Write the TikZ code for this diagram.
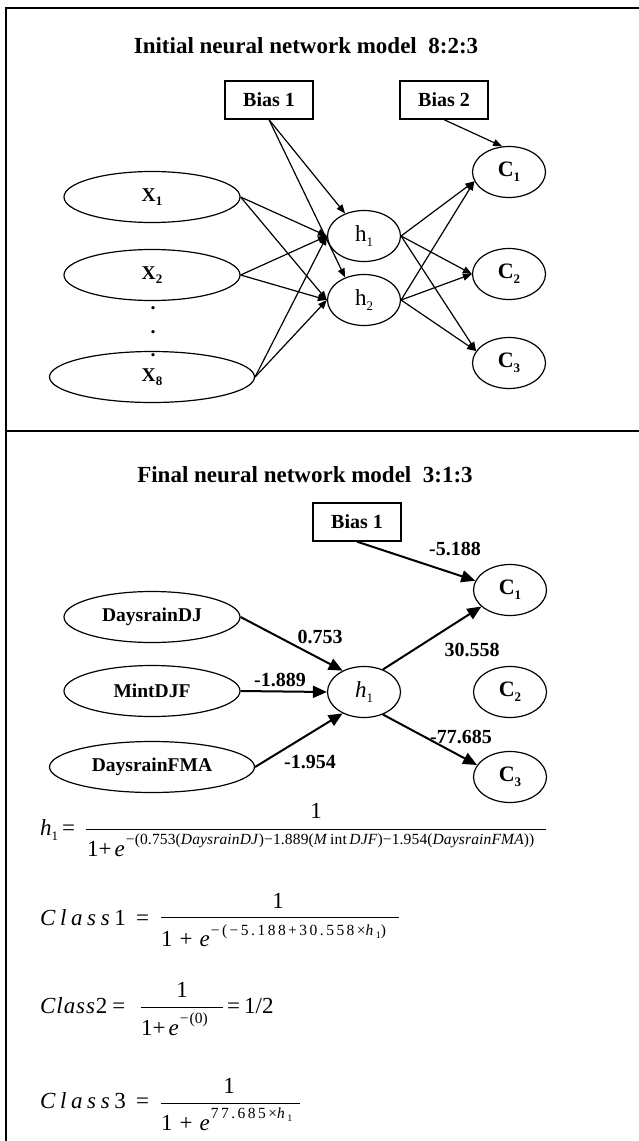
\documentclass[tikz,border=0pt]{standalone}
\usepackage{fontspec}
\setmainfont{Liberation Serif}
\usetikzlibrary{shapes.geometric,arrows.meta}

% lowered index digit
\newcommand{\lowidx}[1]{\raisebox{-0.22em}{\fontsize{13}{13}\selectfont #1}}
\newcommand{\smallidx}[1]{\raisebox{-0.2em}{\fontsize{10}{10}\selectfont #1}}
% raised exponent of e
\newcommand{\expo}[2]{\raisebox{#1}{\fontsize{15.5}{15.5}\selectfont #2}}

\begin{document}
\begin{tikzpicture}[x=1pt,y=-1pt,
  heading/.style={anchor=base,font=\fontsize{23}{23}\selectfont\bfseries},
  biasbox/.style={draw,line width=1.3pt,minimum width=88pt,minimum height=38pt,inner sep=0pt,
    font=\fontsize{20}{20}\selectfont\bfseries},
  oval/.style={ellipse,draw,line width=1.2pt,inner sep=0pt,minimum height=51pt},
  inoval/.style={oval,minimum width=176pt,font=\fontsize{19.5}{19.5}\selectfont\bfseries},
  wideoval/.style={oval,minimum width=205pt,font=\fontsize{19.5}{19.5}\selectfont\bfseries},
  unit/.style={oval,minimum width=73pt,font=\fontsize{23}{23}\selectfont},
  outunit/.style={oval,minimum width=73pt,font=\fontsize{22}{22}\selectfont\bfseries},
  wire/.style={line width=1.2pt,-{Triangle[length=9pt,width=7pt]}},
  heavywire/.style={line width=2pt,-{Triangle[length=14pt,width=12pt]}},
  weight/.style={font=\fontsize{20}{20}\selectfont\bfseries,inner sep=0pt},
  dotmark/.style={font=\fontsize{20}{20}\selectfont\bfseries,inner sep=0pt},
  eqtext/.style={anchor=base west,inner sep=0pt,font=\fontsize{23}{23}\selectfont},
  eqnum/.style={anchor=base,inner sep=0pt,font=\fontsize{23}{23}\selectfont},
  fracbar/.style={line width=1pt}
]
\useasboundingbox (0,0) rectangle (639,1141);

% outer frame and divider
\begin{scope}
  \clip (0,0) rectangle (639,1141);
  \draw[line width=2pt] (6,1160) -- (6,8) -- (660,8);
  \draw[line width=2pt] (6,431) -- (660,431);
\end{scope}

% ---------- initial model 8:2:3 ----------
\node[heading] (t1) at (306,53) {Initial neural network model~~8:2:3};

\node[biasbox] (b1) at (269,100) {Bias 1};
\node[biasbox] (b2) at (444,100) {Bias 2};

\node[inoval] (x1) at (152,197) {X\lowidx{1}};
\node[inoval] (x2) at (152,275) {X\lowidx{2}};
\node[wideoval] (x8) at (152,377) {X\lowidx{8}};
\node[dotmark] (d1) at (153,308) {.};
\node[dotmark] (d2) at (153,332) {.};
\node[dotmark] (d3) at (153,355) {.};

\node[unit] (h1) at (364,236) {h\lowidx{1}};
\node[unit] (h2) at (364,300) {h\lowidx{2}};

\node[outunit] (c1) at (509,172) {C\lowidx{1}};
\node[outunit] (c2) at (509,274) {C\lowidx{2}};
\node[outunit] (c3) at (509,363) {C\lowidx{3}};

\foreach \src in {x1,x2,x8}{
  \draw[wire] (\src.east) -- (h1.west);
  \draw[wire] (\src.east) -- (h2.west);
}
\draw[wire] (b1.south) -- (h1.130);
\draw[wire] (b1.south) -- (h2.130);
\draw[wire] (b2.south) -- (c1.105);
\foreach \hid in {h1,h2}{
  \draw[wire] (\hid.east) -- (c1.195);
  \draw[wire] (\hid.east) -- (c2.west);
  \draw[wire] (\hid.east) -- (c3.160);
}

% ---------- final model 3:1:3 ----------
\node[heading] (t2) at (305,482) {Final neural network model~~3:1:3};

\node[biasbox] (fb1) at (357,522) {Bias 1};

\node[inoval] (dj) at (152,617) {DaysrainDJ};
\node[inoval] (mint) at (152,691) {MintDJF};
\node[wideoval] (fma) at (152,767) {DaysrainFMA};

\node[unit] (fh1) at (364,692) {\textit{h}\lowidx{1}};

\node[outunit] (fc1) at (510,590) {C\lowidx{1}};
\node[outunit] (fc2) at (510,692) {C\lowidx{2}};
\node[outunit] (fc3) at (510,777) {C\lowidx{3}};

\draw[heavywire] (dj.east) -- (fh1.135);
\draw[heavywire] (mint.east) -- (fh1.west);
\draw[heavywire] (fma.east) -- (fh1.225);
\draw[heavywire] (fh1.50) -- (fc1.210);
\draw[heavywire] (fh1.310) -- (fc3.160);
\draw[heavywire] (fb1.south) -- (fc1.165);

\node[weight] (w0) at (455,549) {-5.188};
\node[weight] (w1) at (320,637) {0.753};
\node[weight] (w2) at (472,650) {30.558};
\node[weight] (w3) at (280,680) {-1.889};
\node[weight] (w4) at (461,737) {-77.685};
\node[weight] (w5) at (310,762) {-1.954};

% ---------- equations ----------
% hidden unit
\node[eqtext] (e1l) at (40,835) {\textit{h}\lowidx{1}\hspace{4pt}=};
\draw[fracbar] (86,829) -- (546,829);
\node[eqnum] (e1n) at (316,818) {1};
\node[eqtext] (e1d) at (87,856) {1+\hspace{3pt}\textit{e}\hspace{1pt}\expo{12pt}{%
  \addfontfeatures{LetterSpace=1}−(0.753(\textit{DaysrainDJ})−1.889(\textit{M}\,int\,\textit{DJF})−1.954(\textit{DaysrainFMA}))}};

% class 1
\node[eqtext] (e2l) at (40,925) {\addfontfeatures{LetterSpace=20}\textit{Class}1 =};
\draw[fracbar] (161,917) -- (399,917);
\node[eqnum] (e2n) at (278,908) {1};
\node[eqtext] (e2d) at (161,946) {1\hspace{7pt}+\hspace{7pt}\textit{e}\hspace{1pt}\expo{11pt}{%
  \addfontfeatures{LetterSpace=16}−(−5.188+30.558×\textit{h}\smallidx{1})}};

% class 2
\node[eqtext] (e3l) at (40,1013) {\addfontfeatures{LetterSpace=4}\textit{Class}2\hspace{5pt}=};
\draw[fracbar] (141,1007) -- (223,1007);
\node[eqnum] (e3n) at (182,997) {1};
\node[eqtext] (e3d) at (141,1035) {1+\hspace{3pt}\textit{e}\hspace{1pt}\expo{12pt}{−\hspace{1pt}(0)}};
\node[eqtext] (e3r) at (227,1013) {=\hspace{4pt}1/2};

% class 3
\node[eqtext] (e4l) at (40,1108) {\addfontfeatures{LetterSpace=20}\textit{Class}3 =};
\draw[fracbar] (161,1103) -- (300,1103);
\node[eqnum] (e4n) at (229,1093) {1};
\node[eqtext] (e4d) at (161,1130) {1\hspace{7pt}+\hspace{7pt}\textit{e}\hspace{1pt}\expo{12pt}{%
  \addfontfeatures{LetterSpace=16}77.685×\textit{h}\smallidx{1}}};
\end{tikzpicture}
\end{document}
